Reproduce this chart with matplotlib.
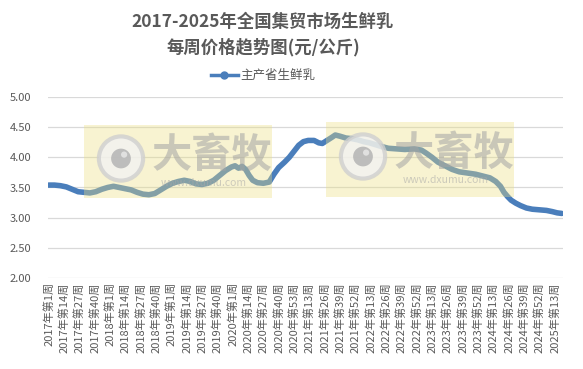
import matplotlib
matplotlib.use("Agg")
import matplotlib.pyplot as plt
from matplotlib.patches import Rectangle, Circle
from matplotlib.lines import Line2D

plt.rcParams["font.family"] = ["Noto Sans CJK SC", "DejaVu Sans"]

# week index (0 = 2017年第1周) and price
WEEK_IDX = [0, 5, 10, 15, 20, 25, 30, 35, 40, 45, 50, 55, 60, 65, 70, 75, 80, 85, 90, 95,
            100, 105, 110, 115, 120, 125, 130, 135, 140, 145, 150, 155, 158, 161, 164, 167,
            170, 173, 177, 182, 187, 191, 195, 200, 204, 208, 212, 216, 220, 225, 229, 232,
            236, 240, 243, 247, 252, 257, 262, 267, 272, 277, 282, 288, 295, 302, 310, 316,
            320, 325, 330, 336, 342, 348, 355, 362, 368, 374, 379, 383, 386, 389, 392, 396,
            400, 405, 410, 416, 422, 427, 431, 435]
PRICE = [3.54, 3.54, 3.53, 3.51, 3.47, 3.43, 3.42, 3.41, 3.43, 3.47, 3.50, 3.52, 3.50, 3.48,
         3.46, 3.42, 3.39, 3.38, 3.40, 3.46, 3.52, 3.57, 3.60, 3.62, 3.60, 3.56, 3.55, 3.57,
         3.62, 3.70, 3.78, 3.84, 3.86, 3.82, 3.85, 3.80, 3.70, 3.62, 3.58, 3.57, 3.59, 3.72,
         3.83, 3.92, 4.00, 4.10, 4.20, 4.26, 4.28, 4.28, 4.24, 4.23, 4.28, 4.33, 4.37, 4.35,
         4.32, 4.31, 4.29, 4.26, 4.24, 4.21, 4.18, 4.15, 4.14, 4.13, 4.14, 4.12, 4.07, 4.00,
         3.92, 3.86, 3.80, 3.76, 3.74, 3.72, 3.69, 3.66, 3.60, 3.52, 3.42, 3.35, 3.29, 3.24,
         3.20, 3.16, 3.14, 3.13, 3.12, 3.10, 3.08, 3.07]

TICK_LABELS = ["2017年第1周", "2017年第14周", "2017年第27周", "2017年第40周",
               "2018年第1周", "2018年第14周", "2018年第27周", "2018年第40周",
               "2019年第1周", "2019年第14周", "2019年第27周", "2019年第40周",
               "2020年第1周", "2020年第14周", "2020年第27周", "2020年第40周", "2020年第53周",
               "2021年第13周", "2021年第26周", "2021年第39周", "2021年第52周",
               "2022年第13周", "2022年第26周", "2022年第39周", "2022年第52周",
               "2023年第13周", "2023年第26周", "2023年第39周", "2023年第52周",
               "2024年第13周", "2024年第26周", "2024年第39周", "2024年第52周",
               "2025年第13周"]
TICK_POS = [i * 13 for i in range(len(TICK_LABELS))]

W, H = 583, 369
fig = plt.figure(figsize=(W / 100, H / 100), dpi=100)
ax = fig.add_axes([48 / W, 1 - 278 / H, (563 - 48) / W, (278 - 97) / H])

blue = "#4a7ebb"
grey = "#595959"
ax.plot(WEEK_IDX, PRICE, color=blue, lw=4.0, solid_capstyle="round",
        solid_joinstyle="round", zorder=3)

ax.set_xlim(-0.5, 436)
ax.set_ylim(2, 5)
ax.set_yticks([2, 2.5, 3, 3.5, 4, 4.5, 5])
ax.set_yticklabels([f"{v:.2f}" for v in [2, 2.5, 3, 3.5, 4, 4.5, 5]])
ax.set_xticks(TICK_POS)
ax.set_xticklabels(TICK_LABELS, rotation=90)
ax.tick_params(axis="both", length=0, labelsize=8, colors=grey)
ax.tick_params(axis="y", pad=12)
ax.tick_params(axis="x", pad=3)
ax.grid(axis="y", color="#d9d9d9", lw=0.9)
ax.set_axisbelow(True)
for s in ax.spines.values():
    s.set_visible(False)

cx_title = 263 / W
fig.text(cx_title, 1 - 22 / H, "2017-2025年全国集贸市场生鲜乳", ha="center", va="center",
         fontsize=12.5, fontweight="bold", color=grey)
fig.text(cx_title, 1 - 47 / H, "每周价格趋势图(元/公斤)", ha="center", va="center",
         fontsize=12.5, fontweight="bold", color=grey)

handle = Line2D([], [], color=blue, lw=2.5, marker="o", markersize=5)
fig.legend([handle], ["主产省生鲜乳"], loc="center", bbox_to_anchor=(cx_title, 1 - 76 / H),
           frameon=False, fontsize=9, labelcolor=grey, handlelength=2.2,
           handletextpad=0.2)

# watermark boxes overlaid on the plot
def px(x, y):
    return x / W, 1 - y / H

for x0, y0, x1, y1, cx, tx in [(84, 125, 272, 198, 121, 212), (326, 122, 514, 197, 363, 454)]:
    fx, fy = px(x0, y1)
    fig.add_artist(Rectangle((fx, fy), (x1 - x0) / W, (y1 - y0) / H, transform=fig.transFigure,
                             facecolor="#ecdf82", alpha=0.36, edgecolor="none", zorder=5))
    cy = (y0 + y1) / 2 - 3
    ax_icon = fig.add_axes([(cx - 26) / W, 1 - (cy + 26) / H, 52 / W, 52 / H], zorder=6)
    ax_icon.set_xlim(-1, 1)
    ax_icon.set_ylim(-1, 1)
    ax_icon.set_aspect("equal")
    ax_icon.axis("off")
    ax_icon.patch.set_alpha(0)
    ax_icon.add_patch(Circle((0, 0), 0.85, facecolor="#f2f2f2", edgecolor="#cfcfcf",
                             lw=3, alpha=0.8))
    ax_icon.add_patch(Circle((0, 0), 0.38, facecolor="#b4b4b4", alpha=0.85))
    ax_icon.add_patch(Circle((0.12, 0.15), 0.12, facecolor="#e4e4e4", alpha=0.9))
    tfx, tfy = px(tx, cy - 3)
    fig.text(tfx, tfy, "大畜牧", ha="center", va="center", fontsize=29, fontweight="bold",
             color="#a4a4a4", alpha=0.55, zorder=7)
    wfx, wfy = px(tx - 8, cy + 24)
    fig.text(wfx, wfy, "www.dxumu.com", ha="center", va="center", fontsize=7.5,
             color="#a8a8a8", alpha=0.55, zorder=7)

fig.savefig("out.png", dpi=100)
